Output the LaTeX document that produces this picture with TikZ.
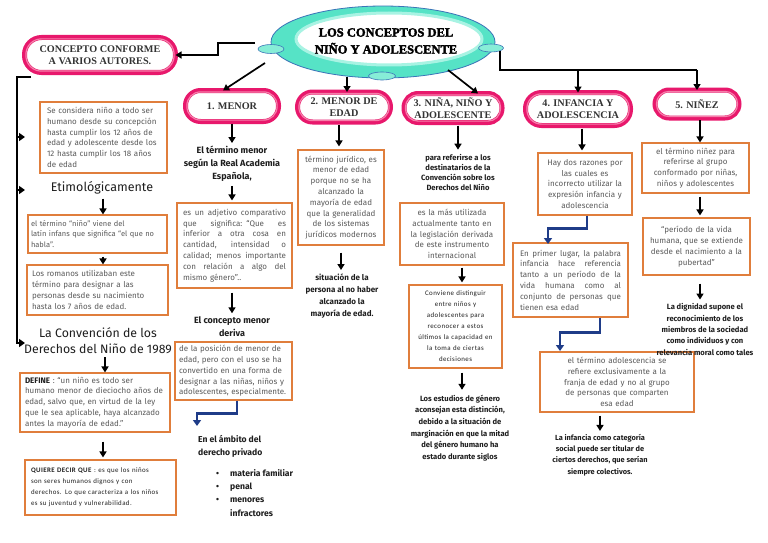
\documentclass[tikz,border=0pt]{standalone}
\usepackage{fontspec}
\setmainfont{Fira Sans}
\newfontfamily\serifb{Liberation Serif}
\newfontfamily\titlef[BoldFeatures={FakeBold=2.5}]{Liberation Serif}
\newfontfamily\carl[LetterSpace=6]{Carlito}
\usetikzlibrary{arrows.meta,shapes.geometric}
\definecolor{pinkc}{HTML}{E8186C}
\definecolor{pinkl}{HTML}{F57FAA}
\definecolor{orangec}{HTML}{E07E3C}
\definecolor{gtext}{HTML}{5A5A5A}
\definecolor{dtext}{HTML}{1E1E1E}
\definecolor{navy}{HTML}{1F3C88}
\definecolor{ring}{HTML}{56E3C6}
\definecolor{ringl}{HTML}{A8F3E3}
\definecolor{ringb}{HTML}{3B74B8}
\newcommand\jl[2]{\makebox[#1][s]{\spaceskip=0.3em plus 3em minus 0.1em\relax #2}}
\newcommand\pillbox[8]{%
  \node[pill, minimum width=#4, minimum height=#5, rounded corners=#6] (#1) at (#2,#3) {#8};
  \draw[pinkl, line width=1.2pt, rounded corners=#7]
    ([shift={(1.4pt,-1.4pt)}]#1.north west) rectangle ([shift={(-1.4pt,1.4pt)}]#1.south east);
  \node[pilltext] at (#1.center) {#8};
}
\tikzset{
  arr/.style={line width=1.7pt, -{Triangle[length=6pt,width=7pt]}},
  brk/.style={line width=2.6pt, -{Triangle[length=6pt,width=8pt]}},
  bluearr/.style={draw=navy, line width=2.4pt, -{Triangle[length=6pt,width=8pt]}},
  obox/.style={draw=orangec, line width=1.1pt, fill=white, inner sep=0pt, text=gtext,
    font=\fontsize{8}{10.8}\selectfont},
  pill/.style={draw=pinkc, line width=5pt, fill=white, inner sep=0pt, outer sep=0pt,
    font=\serifb\bfseries\fontsize{10.2}{12}\selectfont, text=white, align=center},
  pilltext/.style={font=\serifb\bfseries\fontsize{10.2}{12}\selectfont, text=black!80, align=center, inner sep=0pt},
  btext/.style={inner sep=0pt, align=center, text=dtext},
}
\begin{document}
\begin{tikzpicture}[x=1pt,y=-1pt]
\useasboundingbox[fill=white] (0,0) rectangle (768,543);

% ---------- title ----------
\node[ellipse, draw=ringb, line width=0.8pt, fill=ring, minimum width=224pt, minimum height=72pt, inner sep=0pt] (title) at (383,42) {};
\node[ellipse, fill=white, draw=ringl, line width=3pt, minimum width=186pt, minimum height=52pt, inner sep=0pt] (titlein) at (389,39) {};
\node[ellipse, fill=ringl!60!ring, draw=ringb, line width=0.6pt, minimum width=26pt, minimum height=9pt, inner sep=0pt] (sl) at (271,49) {};
\node[ellipse, fill=ringl!60!ring, draw=ringb, line width=0.6pt, minimum width=25pt, minimum height=8pt, inner sep=0pt] (sr) at (491,48) {};
\node[ellipse, fill=ringl!60!ring, draw=ringb, line width=0.6pt, minimum width=27pt, minimum height=8pt, inner sep=0pt] (sb) at (382,76) {};
\node[align=center, inner sep=0pt, font=\titlef\bfseries\fontsize{12.5}{17}\selectfont] (tt) at (386,41) {LOS CONCEPTOS DEL\\NIÑO Y ADOLESCENTE};

% ---------- pills ----------
\pillbox{concept}{100}{55}{151pt}{35pt}{17pt}{15.5pt}{CONCEPTO CONFORME\\A VARIOS AUTORES.}
\pillbox{menor}{232}{106}{93pt}{31pt}{15pt}{13.5pt}{1. MENOR}
\pillbox{medad}{344}{107}{93pt}{30pt}{15pt}{13.5pt}{2. MENOR DE\\EDAD}
\pillbox{nina}{453}{108}{98pt}{29pt}{14pt}{12.5pt}{3. NIÑA, NIÑO Y\\ADOLESCENTE}
\pillbox{infancia}{578}{109}{105pt}{33pt}{16pt}{14.5pt}{4. INFANCIA Y\\ADOLESCENCIA}
\pillbox{ninez}{697}{104}{84pt}{28pt}{14pt}{12.5pt}{5. NIÑEZ}

% ---------- title connectors ----------
\coordinate (c1) at (255,43);
\coordinate (c2) at (265,63);
\coordinate (c3) at (347,77);
\coordinate (c4) at (448,70);
\coordinate (c5) at (500,51);
\coordinate (c6) at (500,70);
\draw[arr] (c1) -- (218,43) |- (concept.east);
\draw[arr] (c2) -- ([xshift=-9pt]menor.north);
\draw[arr] (c3) -- (c3 |- medad.north);
\draw[arr] (c4) -- ([xshift=25pt]nina.north);
\draw[line width=1.7pt] (c5) -- (c6) -- (c6 -| ninez.north);
\draw[arr] (c6 -| infancia.north) -- (infancia.north);
\draw[arr] (c6 -| ninez.north) -- (ninez.north);

% ---------- column 1 ----------
\node[obox, minimum width=127pt, minimum height=71pt, text width=113pt, align=left] (boxA) at (103.5,137.5)
 {Se considera niño a todo ser\\humano desde su concepción\\hasta cumplir los 12 años de\\edad y adolescente desde los\\12 hasta cumplir los 18 años\\de edad};
\node[btext, font=\fontsize{12.5}{15}\selectfont] (etim) at (102,188) {Etimológicamente};
\node[obox, minimum width=139pt, minimum height=38pt, text width=133pt, align=left, font=\fontsize{7.5}{10.2}\selectfont] (boxB) at (97.5,234)
 {el término “niño” viene del\\latín infans que significa “el que no\\habla”.};
\node[obox, minimum width=141pt, minimum height=50pt, text width=131pt, align=left] (boxC) at (97.5,290)
 {Los romanos utilizaban este\\término para designar a las\\personas desde su nacimiento\\hasta los 7 años de edad.};
\node[btext, font=\fontsize{12.3}{16}\selectfont] (conv) at (98,341) {La Convención de los\\Derechos del Niño de 1989};
\node[obox, minimum width=150pt, minimum height=59pt, text width=140pt, align=left] (boxD) at (95,402.5)
 {\textbf{\textcolor{dtext}{DEFINE}} : “un niño es todo ser\\humano menor de dieciocho años de\\edad, salvo que, en virtud de la ley\\que le sea aplicable, haya alcanzado\\antes la mayoría de edad.”};
\node[obox, minimum width=151pt, minimum height=55pt, text width=139pt, align=left, text=dtext, font=\carl\fontsize{6.9}{11}\selectfont] (boxE) at (100.5,487.5)
 {\textbf{QUIERE DECIR QUE} : es que los niños\\son seres humanos dignos y con\\derechos. Lo que caracteriza a los niños\\es su juventud y vulnerabilidad.};

\coordinate (b0) at (31,77);
\coordinate (b1) at (17,77);
\coordinate (b2) at (17,343);
\draw[brk] (b0) -- (b1) -- (b2) -- ([xshift=8pt]b2);
\draw[brk] (b1 |- 0,137) -- ++(8,0);
\draw[brk] (b1 |- 0,190) -- ++(8,0);
\draw[arr, shorten <=4pt] ([xshift=1pt]etim.south) -- ([xshift=1pt]etim.south |- boxB.north);
\draw[arr, shorten <=3pt] ([xshift=5.5pt]boxB.south) -- ([xshift=5.5pt]boxB.south |- boxC.north);
\draw[arr, shorten <=3pt] ([xshift=7pt]conv.south) -- ([xshift=7pt]conv.south |- boxD.north);
\draw[arr, shorten <=9pt, shorten >=2pt] ([xshift=8pt]boxD.south) -- ([xshift=8pt]boxD.south |- boxE.north);

% ---------- column 2 ----------
\node[btext, font=\bfseries\fontsize{9}{13}\selectfont] (t1) at (232,164) {El término menor\\según la Real Academia\\Española,};
\node[obox, minimum width=115pt, minimum height=85pt, text width=103pt, align=left] (boxF) at (234.5,245.5)
 {\jl{103pt}{es un adjetivo comparativo}\\\jl{103pt}{que significa: “Que es}\\\jl{103pt}{inferior a otra cosa en}\\\jl{103pt}{cantidad, intensidad o}\\\jl{103pt}{calidad; menos importante}\\\jl{103pt}{con relación a algo del}\\mismo género”..};
\node[btext, font=\bfseries\fontsize{9}{13}\selectfont] (t2) at (232,326.5) {El concepto menor\\deriva};
\node[obox, minimum width=117pt, minimum height=58pt, text width=109pt, align=left] (boxG) at (233.5,371)
 {de la posición de menor de\\edad, pero con el uso se ha\\convertido en una forma de\\designar a las niñas, niños y\\adolescentes, especialmente.};
\node[btext, align=left, anchor=west, font=\bfseries\fontsize{8.6}{13}\selectfont] (t3) at (198,446.5) {En el ámbito del\\derecho privado};
\node[btext, align=left, anchor=north west, font=\bfseries\fontsize{8.6}{13.4}\selectfont] (t3b) at (216,466.5)
 {\begin{tabular}{@{}p{14pt}@{}l@{}}•&materia familiar\\•&penal\\•&menores\\&infractores\end{tabular}};
\draw[arr, shorten <=2pt, shorten >=3pt] (menor.south) -- (menor.south |- t1.north);
\draw[arr, shorten <=4pt, shorten >=2pt] (t1.south) -- (t1.south |- boxF.north);
\draw[arr, shorten <=4pt, shorten >=3pt] (boxF.south -| t2.north) -- (t2.north);
\coordinate (g1) at (197,426);
\draw[bluearr] ([xshift=3.5pt]boxG.south) -- ++(0,13) -| (g1);

% ---------- column 3 ----------
\node[obox, minimum width=86pt, minimum height=95pt, text width=84pt, align=center] (boxH) at (341,197.5)
 {término jurídico, es\\menor de edad\\porque no se ha\\alcanzado la\\mayoría de edad\\que la generalidad\\de los sistemas\\jurídicos modernos};
\node[btext, font=\bfseries\fontsize{8}{11.7}\selectfont] (t5) at (342,296) {situación de la\\persona al no haber\\alcanzado la\\mayoría de edad.};
\draw[arr, shorten <=3pt, shorten >=3pt] (medad.south -| boxH.north) ++(-2,0) -- ([xshift=-2pt]boxH.north);
\draw[arr, shorten <=7pt, shorten >=4pt] (boxH.south) -- (boxH.south |- t5.north);

% ---------- column 4 ----------
\node[btext, font=\bfseries\fontsize{7.6}{10}\selectfont] (t6) at (458,172) {para referirse a los\\destinatarios de la\\Convención sobre los\\Derechos del Niño};
\node[obox, minimum width=104pt, minimum height=62pt, text width=98pt, align=center] (boxI) at (452,234)
 {es la más utilizada\\actualmente tanto en\\la legislación derivada\\de este instrumento\\internacional};
\node[obox, minimum width=93pt, minimum height=83pt, text width=88pt, align=center, text=dtext, font=\carl\fontsize{6.9}{11}\selectfont] (boxJ) at (455.5,326.5)
 {Conviene distinguir\\entre niños y\\adolescentes para\\reconocer a estos\\últimos la capacidad en\\la toma de ciertas\\decisiones};
\node[btext, font=\bfseries\fontsize{7.6}{11.6}\selectfont] (t7) at (460,428) {Los estudios de género\\aconsejan esta distinción,\\debido a la situación de\\marginación en que la mitad\\del género humano ha\\estado durante siglos};
\draw[arr, shorten <=3pt, shorten >=4pt] (nina.south -| t6.north) -- (t6.north);
\draw[arr, shorten <=2pt, shorten >=2pt] ([xshift=10pt]boxI.south) -- ([xshift=10pt]boxI.south |- boxJ.north);
\draw[arr, shorten <=4pt, shorten >=5pt] ([xshift=6.5pt]boxJ.south) -- ([xshift=6.5pt]boxJ.south |- t7.north);

% ---------- column 5 ----------
\node[obox, minimum width=94pt, minimum height=62pt, text width=90pt, align=center] (boxK) at (585,184)
 {Hay dos razones por\\las cuales es\\incorrecto utilizar la\\expresión infancia y\\adolescencia};
\node[obox, minimum width=115pt, minimum height=74pt, text width=101pt, align=left] (boxL) at (570.5,280)
 {\jl{101pt}{En primer lugar, la palabra}\\\jl{101pt}{infancia hace referencia}\\\jl{101pt}{tanto a un período de la}\\\jl{101pt}{vida humana como al}\\\jl{101pt}{conjunto de personas que}\\tienen esa edad};
\node[obox, minimum width=154pt, minimum height=60pt, text width=146pt, align=center] (boxM) at (617,382)
 {el término adolescencia se\\refiere exclusivamente a la\\franja de edad y no al grupo\\de personas que comparten\\esa edad};
\node[btext, font=\bfseries\fontsize{7.4}{11.3}\selectfont] (t8) at (600,455) {La infancia como categoría\\social puede ser titular de\\ciertos derechos, que serían\\siempre colectivos.};
\draw[arr, shorten <=3pt, shorten >=2pt] ([xshift=-3pt]infancia.south -| boxK.north) -- ([xshift=-3pt]boxK.north);
\coordinate (k1) at (548,244);
\draw[bluearr] ([xshift=2pt]boxK.south) -- ++(0,13) -| (k1);
\coordinate (l1) at (560,351);
\draw[bluearr] ([xshift=29.5pt]boxL.south) -- ++(0,15) -| (l1);
\draw[arr, shorten <=3pt, shorten >=3pt] ([xshift=-17pt]boxM.south) -- ([xshift=-17pt]boxM.south |- t8.north);

% ---------- column 6 ----------
\node[obox, minimum width=107pt, minimum height=50pt, text width=103pt, align=center] (boxN) at (695.5,168)
 {el término niñez para\\referirse al grupo\\conformado por niñas,\\niños y adolescentes};
\node[obox, minimum width=107pt, minimum height=57pt, text width=103pt, align=center] (boxO) at (696.5,246.5)
 {“período de la vida\\humana, que se extiende\\desde el nacimiento a la\\pubertad”};
\node[btext, font=\bfseries\fontsize{7.6}{11.3}\selectfont] (t9) at (705,329.5) {La dignidad supone el\\reconocimiento de los\\miembros de la sociedad\\como individuos y con\\relevancia moral como tales};
\draw[arr, shorten <=2pt] ([xshift=3pt]ninez.south) -- ([xshift=3pt]ninez.south |- boxN.north);
\draw[arr, shorten <=3pt, shorten >=2pt] ([xshift=4.5pt]boxN.south) -- ([xshift=4.5pt]boxN.south |- boxO.north);
\draw[arr, shorten <=8pt, shorten >=4pt] ([xshift=3.5pt]boxO.south) -- ([xshift=3.5pt]boxO.south |- t9.north);
\end{tikzpicture}
\end{document}
